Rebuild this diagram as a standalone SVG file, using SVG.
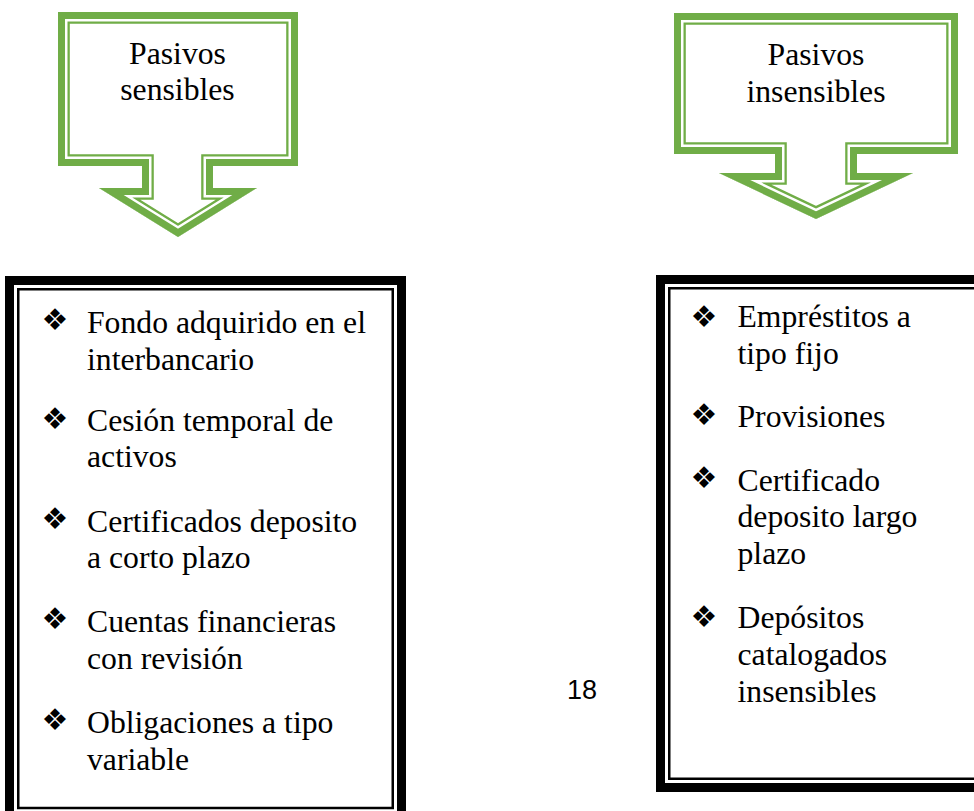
<svg xmlns="http://www.w3.org/2000/svg" width="974" height="811" viewBox="0 0 974 811">
<style>
.t{font-family:"Liberation Serif","Times New Roman",serif;font-size:31.7px;fill:#000}
.h{font-family:"Liberation Serif","Times New Roman",serif;font-size:31.7px;fill:#000;text-anchor:middle}
.b{font-family:"DejaVu Sans",sans-serif;font-size:30px;fill:#000;text-anchor:middle}
.pg{font-family:"Liberation Sans",Arial,sans-serif;font-size:27px;fill:#000;text-anchor:middle}
.g1{fill:none;stroke:#70AD47;stroke-width:23.6;stroke-linejoin:miter;stroke-miterlimit:10}
.g2{fill:none;stroke:#fff;stroke-width:19;stroke-linejoin:miter;stroke-miterlimit:10}
.g3{fill:none;stroke:#70AD47;stroke-width:14;stroke-linejoin:miter;stroke-miterlimit:10}
.k1{fill:#fff;stroke:#000;stroke-width:9}
.k2{fill:none;stroke:#000;stroke-width:2.5}
</style>
<defs>
<path id="pL" d="M58,12 L298,12 L298,166 L213,166 L213,188 L257,188 L178,237 L99,188 L142,188 L142,166 L58,166 Z"/>
<path id="pR" d="M674,13 L958,13 L958,154 L857,154 L857,173 L913,173 L816,219 L719,173 L775,173 L775,154 L674,154 Z"/>
<clipPath id="cL"><use href="#pL"/></clipPath>
<clipPath id="cR"><use href="#pR"/></clipPath>
</defs>
<rect width="974" height="811" fill="#fff"/>
<g id="connectors"></g>
<g id="callout-sensibles">
<g clip-path="url(#cL)">
<use href="#pL" fill="#fff"/>
<use href="#pL" class="g1"/>
<use href="#pL" class="g2"/>
<use href="#pL" class="g3"/>
</g>
<text class="h" x="177.5" y="63.5">Pasivos</text>
<text class="h" x="177.5" y="100">sensibles</text>
</g>
<g id="callout-insensibles">
<g clip-path="url(#cR)">
<use href="#pR" fill="#fff"/>
<use href="#pR" class="g1"/>
<use href="#pR" class="g2"/>
<use href="#pR" class="g3"/>
</g>
<text class="h" x="816" y="64.5">Pasivos</text>
<text class="h" x="816" y="101.5">insensibles</text>
</g>
<g id="box-sensibles">
<rect class="k1" x="9.5" y="280.5" width="392" height="540"/>
<rect class="k2" x="18.25" y="289.25" width="374.5" height="518.75"/>
<text class="b" x="55" y="330">❖</text>
<text class="t" x="87" y="333">Fondo adquirido en el</text>
<text class="t" x="87" y="369.5">interbancario</text>
<text class="b" x="55" y="429">❖</text>
<text class="t" x="87" y="431">Cesión temporal de</text>
<text class="t" x="87" y="467">activos</text>
<text class="b" x="55" y="529">❖</text>
<text class="t" x="87" y="532">Certificados deposito</text>
<text class="t" x="87" y="568">a corto plazo</text>
<text class="b" x="55" y="629">❖</text>
<text class="t" x="87" y="632">Cuentas financieras</text>
<text class="t" x="87" y="669">con revisión</text>
<text class="b" x="55" y="730">❖</text>
<text class="t" x="87" y="733">Obligaciones a tipo</text>
<text class="t" x="87" y="770">variable</text>
</g>
<g id="box-insensibles">
<rect class="k1" x="660.5" y="279.5" width="420" height="508"/>
<rect class="k2" x="669.25" y="288.25" width="400" height="490.5"/>
<text class="b" x="704" y="327">❖</text>
<text class="t" x="737.5" y="327">Empréstitos a</text>
<text class="t" x="737.5" y="364">tipo fijo</text>
<text class="b" x="704" y="425">❖</text>
<text class="t" x="737.5" y="427">Provisiones</text>
<text class="b" x="704" y="488">❖</text>
<text class="t" x="737.5" y="490.5">Certificado</text>
<text class="t" x="737.5" y="527">deposito largo</text>
<text class="t" x="737.5" y="564">plazo</text>
<text class="b" x="704" y="627">❖</text>
<text class="t" x="737.5" y="628">Depósitos</text>
<text class="t" x="737.5" y="665">catalogados</text>
<text class="t" x="737.5" y="702">insensibles</text>
</g>
<g id="page-number">
<text class="pg" x="582" y="699">18</text>
</g>
</svg>
